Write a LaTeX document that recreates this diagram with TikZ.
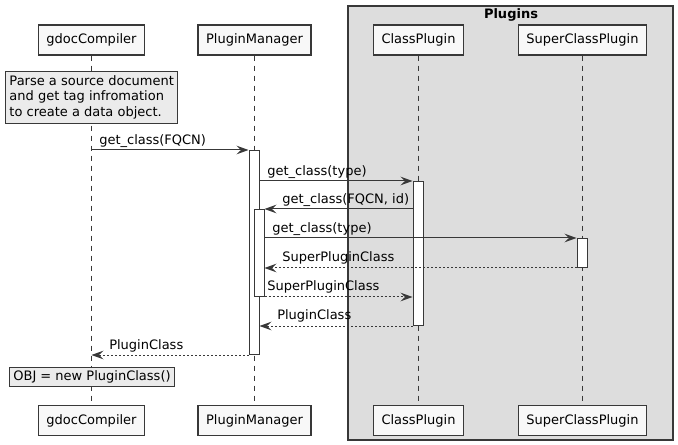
\documentclass[tikz,border=0pt]{standalone}
\usepackage{fontspec}
\setmainfont{DejaVu Sans}
\usetikzlibrary{arrows.meta}
\definecolor{ink}{HTML}{383838}
\definecolor{partfill}{HTML}{F8F8F8}
\definecolor{notefill}{HTML}{EBEBEB}
\definecolor{groupfill}{HTML}{DDDDDD}
\begin{document}
\begin{tikzpicture}[x=0.75pt,y=-0.75pt,
  txt/.style={font=\fontsize{9.75pt}{11.6pt}\selectfont, text=black},
  part/.style={txt, draw=ink, fill=partfill, line width=1pt, minimum height=22.5pt, inner xsep=6pt, inner ysep=0pt},
  note/.style={txt, draw=ink, fill=notefill, line width=0.75pt, align=left, inner xsep=3pt, inner ysep=3pt, anchor=north west},
  lifeline/.style={draw=ink, line width=0.75pt, dash pattern=on 3.75pt off 3.75pt},
  act/.style={draw=ink, fill=white, line width=0.75pt, minimum width=7.5pt, inner sep=0pt, anchor=north},
  msg/.style={draw=ink, line width=0.75pt, -{Stealth[length=9pt, width=6.5pt, inset=3.4pt]}},
  ret/.style={msg, dash pattern=on 1.5pt off 1.5pt},
  lbl/.style={txt, inner sep=0pt, anchor=base west}
]
\useasboundingbox (0,0) rectangle (678,445);

% group box for the plugin participants
\draw[draw=ink, fill=groupfill, line width=0.9pt] (348,6) rectangle (673,440);
\node[font=\fontsize{9.75pt}{11.6pt}\selectfont\bfseries, anchor=base, inner sep=0pt] (grp) at (511,18.5) {Plugins};

% participants, top and bottom
\node[part] (gc)  at (91.5,40) {gdocCompiler};
\node[part] (pm)  at (254.5,40) {PluginManager};
\node[part] (cp)  at (418.5,40) {ClassPlugin};
\node[part] (sc)  at (582.5,40) {SuperClassPlugin};
\node[part] (gcb) at (91.5,420.5) {gdocCompiler};
\node[part] (pmb) at (254.5,420.5) {PluginManager};
\node[part] (cpb) at (418.5,420.5) {ClassPlugin};
\node[part] (scb) at (582.5,420.5) {SuperClassPlugin};

% lifelines
\draw[lifeline] (gc.south) -- (gcb.north);
\draw[lifeline] (pm.south) -- (pmb.north);
\draw[lifeline] (cp.south) -- (cpb.north);
\draw[lifeline] (sc.south) -- (scb.north);

% activation bars
\node[act, minimum height=153pt] (pmA) at (254,150) {};
\node[act, minimum height=108pt] (cpA) at (418,181) {};
\node[act, minimum height=65.25pt] (pmB) at (259,209) {};
\node[act, minimum height=21.75pt] (scA) at (582,238) {};

% notes
\node[note] (n1) at (5,71) {Parse a source document\\and get tag infromation\\to create a data object.};
\node[note, anchor=north, inner ysep=2.5pt] (n2) at (92,367) {OBJ = new PluginClass()};

% messages
\draw[msg] (gc.south |- pmA.north) -- (pmA.north west);
\node[lbl] (m1) at (99,145) {get\_class(FQCN)};

\draw[msg] (pmA.east |- cpA.north) -- (cpA.north west);
\node[lbl] (m2) at (267,176) {get\_class(type)};

\draw[msg] (cpA.west |- pmB.north) -- (pmB.north east);
\node[lbl] (m3) at (282,204) {get\_class(FQCN, id)};

\draw[msg] (pmB.east |- scA.north) -- (scA.north west);
\node[lbl] (m4) at (272,233) {get\_class(type)};

\draw[ret] (scA.south west) -- (pmB.east |- scA.south);
\node[lbl] (m5) at (282,262) {SuperPluginClass};

\draw[ret] (pmB.south east) -- (cpA.west |- pmB.south);
\node[lbl] (m6) at (267,291) {SuperPluginClass};

\draw[ret] (cpA.south west) -- (pmA.east |- cpA.south);
\node[lbl] (m7) at (277,320) {PluginClass};

\draw[ret] (pmA.south west) -- (gc.south |- pmA.south);
\node[lbl] (m8) at (109,349) {PluginClass};
\end{tikzpicture}
\end{document}
